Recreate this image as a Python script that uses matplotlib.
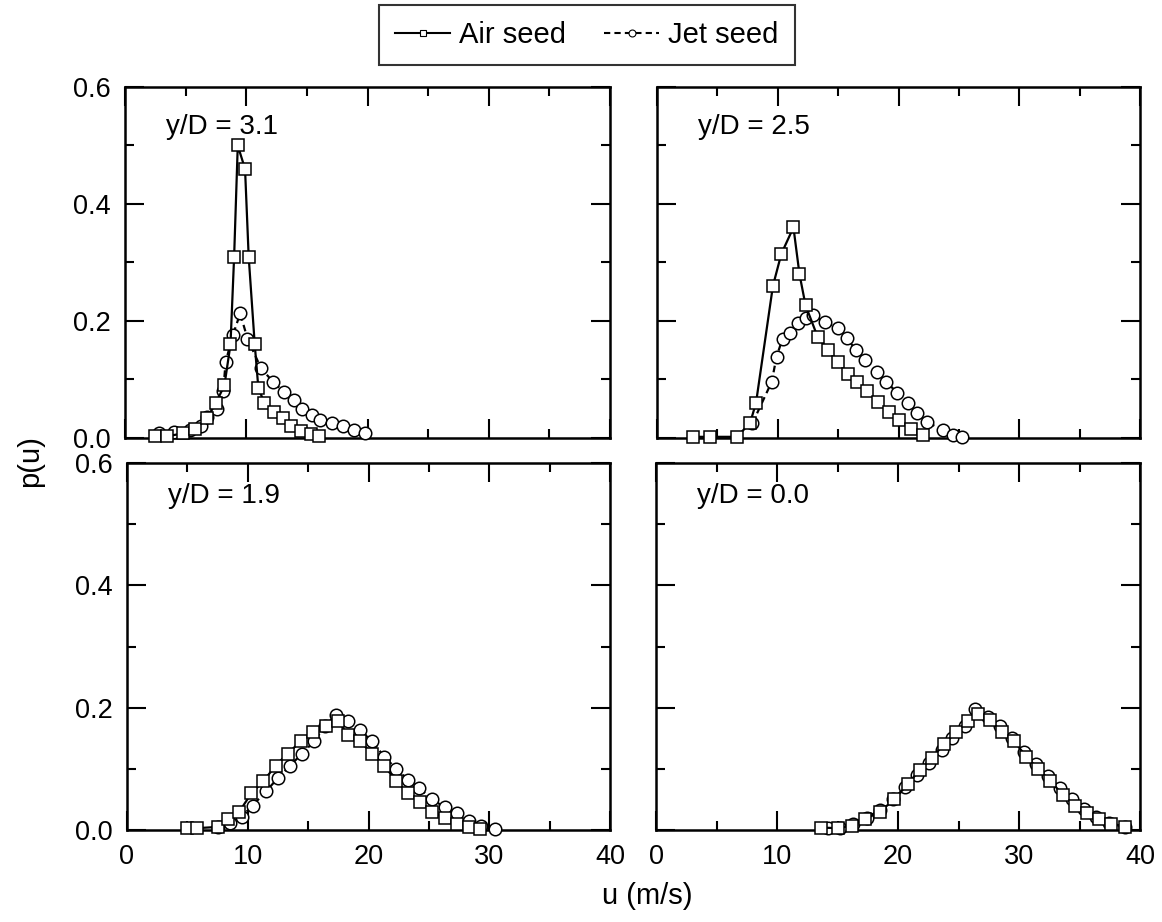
import matplotlib
matplotlib.use("Agg")
import matplotlib.pyplot as plt
from matplotlib.lines import Line2D
from matplotlib.ticker import MultipleLocator, FormatStrFormatter

plt.rcParams["font.family"] = ["Liberation Sans", "DejaVu Sans"]

# panel labels
panel_labels = ["y/D = 3.1", "y/D = 2.5", "y/D = 1.9", "y/D = 0.0"]

# y/D = 3.1
air_u_31 = [2.5, 3.5, 4.8, 5.8, 6.8, 7.5, 8.2, 8.7, 9.0, 9.3, 9.9, 10.2, 10.7, 11.0, 11.5, 12.3, 13.0, 13.7, 14.5, 15.3, 16.0]
air_p_31 = [0.003, 0.003, 0.008, 0.015, 0.035, 0.06, 0.09, 0.16, 0.31, 0.50, 0.46, 0.31, 0.16, 0.085, 0.06, 0.045, 0.035, 0.02, 0.012, 0.006, 0.003]
jet_u_31 = [2.8, 4.0, 5.4, 6.3, 6.8, 7.6, 8.1, 8.3, 8.9, 9.5, 10.1, 11.2, 12.2, 13.1, 13.9, 14.6, 15.4, 16.1, 17.1, 18.0, 18.9, 19.8]
jet_p_31 = [0.008, 0.01, 0.013, 0.02, 0.036, 0.05, 0.08, 0.13, 0.176, 0.213, 0.17, 0.12, 0.096, 0.079, 0.065, 0.05, 0.04, 0.031, 0.025, 0.02, 0.013, 0.008]

# y/D = 2.5
air_u_25 = [3.0, 4.4, 6.6, 7.7, 8.2, 9.6, 10.3, 11.3, 11.8, 12.3, 13.3, 14.2, 15.0, 15.8, 16.6, 17.4, 18.3, 19.2, 20.0, 21.0, 22.0]
air_p_25 = [0.002, 0.002, 0.002, 0.025, 0.06, 0.26, 0.315, 0.36, 0.28, 0.227, 0.173, 0.15, 0.13, 0.11, 0.095, 0.08, 0.062, 0.045, 0.03, 0.015, 0.005]
jet_u_25 = [7.9, 9.5, 9.9, 10.4, 11.0, 11.7, 12.3, 12.9, 13.9, 15.0, 15.7, 16.5, 17.2, 18.2, 19.0, 19.9, 20.8, 21.5, 22.4, 23.7, 24.5, 25.3]
jet_p_25 = [0.025, 0.096, 0.139, 0.17, 0.18, 0.196, 0.205, 0.21, 0.198, 0.188, 0.171, 0.15, 0.133, 0.113, 0.096, 0.077, 0.06, 0.043, 0.027, 0.013, 0.005, 0.001]

# y/D = 1.9
air_u_19 = [5.0, 5.8, 7.5, 8.4, 9.3, 10.3, 11.3, 12.3, 13.3, 14.4, 15.4, 16.5, 17.5, 18.3, 19.3, 20.3, 21.3, 22.3, 23.3, 24.3, 25.3, 26.3, 27.3, 28.3, 29.2]
air_p_19 = [0.003, 0.003, 0.005, 0.018, 0.03, 0.06, 0.08, 0.105, 0.125, 0.145, 0.16, 0.17, 0.178, 0.155, 0.145, 0.125, 0.105, 0.08, 0.06, 0.045, 0.03, 0.02, 0.01, 0.005, 0.002]
jet_u_19 = [7.5, 8.5, 9.5, 10.4, 11.5, 12.5, 13.5, 14.5, 15.5, 16.4, 17.3, 18.3, 19.3, 20.3, 21.3, 22.3, 23.3, 24.2, 25.3, 26.3, 27.3, 28.3, 29.3, 30.5]
jet_p_19 = [0.005, 0.012, 0.022, 0.04, 0.063, 0.085, 0.105, 0.125, 0.145, 0.17, 0.188, 0.178, 0.163, 0.145, 0.12, 0.1, 0.082, 0.068, 0.05, 0.037, 0.027, 0.015, 0.007, 0.002]

# y/D = 0.0
air_u_00 = [13.6, 15.0, 16.2, 17.3, 18.5, 19.7, 20.8, 21.8, 22.8, 23.8, 24.8, 25.8, 26.6, 27.6, 28.6, 29.6, 30.6, 31.6, 32.6, 33.6, 34.6, 35.6, 36.6, 37.6, 38.8]
air_p_00 = [0.004, 0.003, 0.007, 0.018, 0.03, 0.05, 0.075, 0.098, 0.118, 0.14, 0.16, 0.178, 0.19, 0.18, 0.16, 0.145, 0.12, 0.1, 0.08, 0.058, 0.04, 0.028, 0.018, 0.01, 0.005]
jet_u_00 = [14.2, 15.2, 16.3, 17.4, 18.5, 19.6, 20.6, 21.6, 22.6, 23.6, 24.5, 25.5, 26.4, 27.4, 28.4, 29.4, 30.4, 31.4, 32.4, 33.4, 34.4, 35.4, 36.4, 37.4, 38.8]
jet_p_00 = [0.003, 0.004, 0.01, 0.02, 0.033, 0.05, 0.07, 0.09, 0.11, 0.13, 0.15, 0.17, 0.198, 0.185, 0.17, 0.15, 0.128, 0.108, 0.088, 0.068, 0.05, 0.034, 0.022, 0.012, 0.005]

panels = [
    (air_u_31, air_p_31, jet_u_31, jet_p_31),
    (air_u_25, air_p_25, jet_u_25, jet_p_25),
    (air_u_19, air_p_19, jet_u_19, jet_p_19),
    (air_u_00, air_p_00, jet_u_00, jet_p_00),
]

W, H = 1162, 922
fig = plt.figure(figsize=(W / 100, H / 100), dpi=100)

# axes boxes in pixels: left, top, right, bottom
boxes = [(125, 87, 610, 438), (657, 87, 1140, 438), (127, 463, 610, 830), (656, 463, 1140, 830)]

air_style = dict(color="black", lw=1.6, ls="-", marker="s", ms=9, mfc="white", mec="black", mew=1.1, clip_on=False)
jet_style = dict(color="black", lw=1.6, ls=(0, (3, 2)), marker="o", ms=9, mfc="white", mec="black", mew=1.1, clip_on=False)

for i, (box, data, label) in enumerate(zip(boxes, panels, panel_labels)):
    l, t, r, b = box
    ax = fig.add_axes([l / W, 1 - b / H, (r - l) / W, (b - t) / H])
    au, ap, ju, jp = data
    ax.plot(ju, jp, **jet_style, zorder=3)
    ax.plot(au, ap, **air_style, zorder=4)
    ax.set_xlim(0, 40)
    ax.set_ylim(0, 0.6)
    ax.xaxis.set_major_locator(MultipleLocator(10))
    ax.xaxis.set_minor_locator(MultipleLocator(5))
    ax.yaxis.set_major_locator(MultipleLocator(0.2))
    ax.yaxis.set_minor_locator(MultipleLocator(0.1))
    ax.yaxis.set_major_formatter(FormatStrFormatter("%.1f"))
    ax.tick_params(which="both", direction="in", top=True, right=True, width=1.5, labelsize=19.5)
    ax.tick_params(which="major", length=14, pad=10)
    ax.tick_params(which="minor", length=6.5)
    for s in ax.spines.values():
        s.set_linewidth(1.8)
    if i < 2:
        ax.tick_params(labelbottom=False)
    if i % 2 == 1:
        ax.tick_params(labelleft=False)
    ax.text(0.085, 0.91 if i >= 2 else 0.885, label, transform=ax.transAxes, fontsize=20, va="center", ha="left")

fig.text(0.026, 0.5, "p(u)", rotation=90, fontsize=21, va="center", ha="center")
fig.text(0.557, 0.028, "u (m/s)", fontsize=21, va="center", ha="center")

handles = [
    Line2D([], [], color="black", lw=1.5, ls="-", marker="s", ms=5, mfc="white", mec="black", mew=0.8),
    Line2D([], [], color="black", lw=1.5, ls=(0, (3, 2)), marker="o", ms=5, mfc="white", mec="black", mew=0.8),
]
leg = fig.legend(handles, ["Air seed", "Jet seed"], loc="center", bbox_to_anchor=(0.505, 0.962), ncol=2,
                 fontsize=21, frameon=True, fancybox=False, edgecolor="black", handlelength=1.9,
                 columnspacing=1.3, handletextpad=0.3, borderpad=0.55)
leg.get_frame().set_linewidth(1.5)

fig.savefig("out.png", dpi=100)
